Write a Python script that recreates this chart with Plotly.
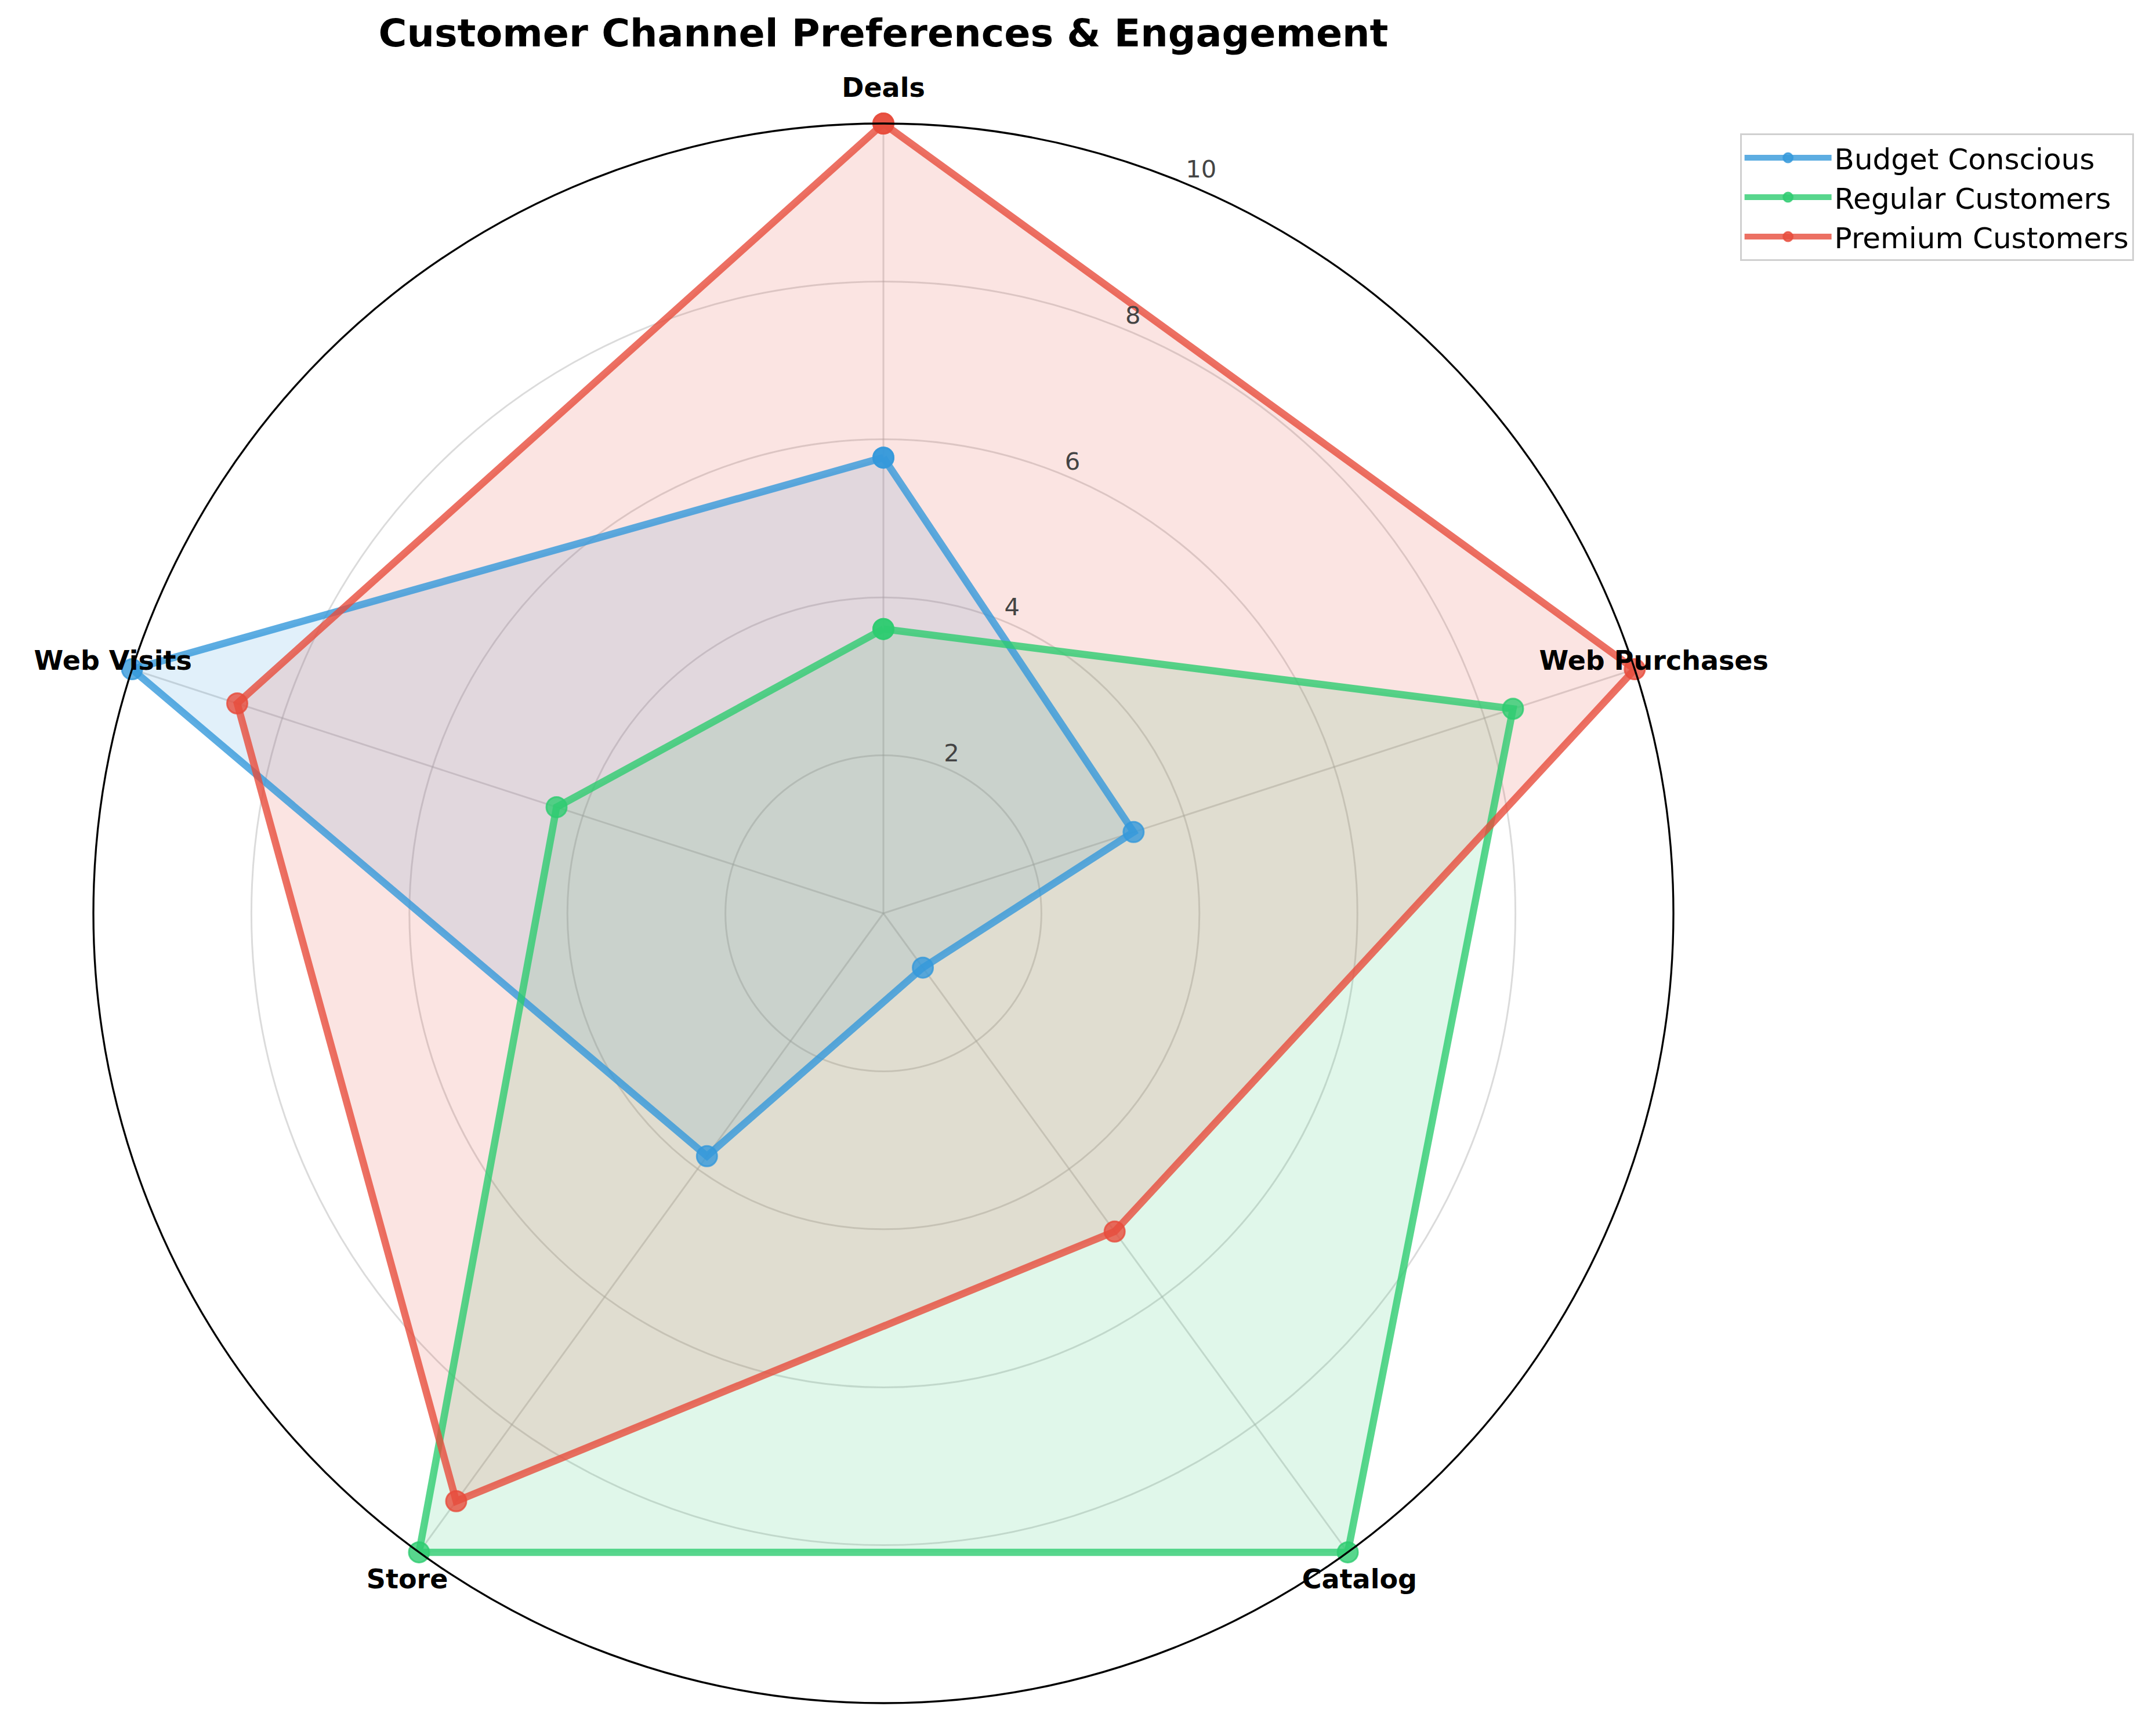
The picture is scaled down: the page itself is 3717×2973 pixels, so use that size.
import plotly.graph_objects as go

categories = ["Deals", "Web Purchases", "Catalog", "Store", "Web Visits"]
budget = [5.77, 3.33, 0.85, 3.8, 10.0]
regular = [3.6, 8.38, 10.0, 10.0, 4.35]
premium = [10.0, 10.0, 4.98, 9.2, 8.6]
series_names = ["Budget Conscious", "Regular Customers", "Premium Customers"]
series_values = [budget, regular, premium]
radial_ticks = [2, 4, 6, 8, 10]
R_MAX = 10

line_colors = ["rgba(52,152,219,0.8)", "rgba(46,204,113,0.8)", "rgba(231,76,60,0.8)"]
fill_colors = ["rgba(52,152,219,0.15)", "rgba(46,204,113,0.15)", "rgba(231,76,60,0.15)"]
label_positions = ["top center", "middle center", "bottom center", "bottom center", "middle center"]
RLABEL_ANGLE = 22.5  # degrees clockwise from top

FONT = "DejaVu Sans"
W, H = 3717, 2973
CX, CY, R_PX = 1523, 1575, 1362  # polar centre and outer radius in pixels

dom_x = [(CX - R_PX) / W, (CX + R_PX) / W]
dom_y = [1 - (CY + R_PX) / H, 1 - (CY - R_PX) / H]
R2_PX = min(CX, W - CX, CY, H - CY)
dom2_x = [(CX - R2_PX) / W, (CX + R2_PX) / W]
dom2_y = [1 - (CY + R2_PX) / H, 1 - (CY - R2_PX) / H]
R2_MAX = R_MAX * R2_PX / R_PX

fig = go.Figure()
for vals, fc in zip(series_values, fill_colors):
    fig.add_trace(go.Scatterpolar(
        r=vals + vals[:1],
        theta=categories + categories[:1],
        mode="lines",
        fill="toself",
        fillcolor=fc,
        line=dict(width=0, color="rgba(0,0,0,0)"),
        showlegend=False,
        hoverinfo="skip",
    ))
for name, vals, lc in zip(series_names, series_values, line_colors):
    fig.add_trace(go.Scatterpolar(
        r=vals + vals[:1],
        theta=categories + categories[:1],
        mode="lines+markers",
        name=name,
        line=dict(color=lc, width=12.5),
        marker=dict(color=lc, size=35, line=dict(color=lc, width=3)),
    ))

# category labels
fig.add_trace(go.Scatterpolar(
    r=[R2_MAX * 0.999] * len(categories),
    theta=categories,
    mode="text",
    text=categories,
    textposition=label_positions,
    textfont=dict(family=FONT, size=46, color="black", weight="bold"),
    showlegend=False,
    cliponaxis=False,
    hoverinfo="skip",
    subplot="polar2",
))

# radial tick labels along the 22.5 degree line
fig.add_trace(go.Scatterpolar(
    r=radial_ticks,
    theta=[RLABEL_ANGLE] * len(radial_ticks),
    mode="text",
    text=[str(t) for t in radial_ticks],
    textposition="top right",
    textfont=dict(family=FONT, size=41.7, color="#444444"),
    showlegend=False,
    cliponaxis=False,
    hoverinfo="skip",
    subplot="polar3",
))

hidden_angular = dict(visible=False, showgrid=False, showline=False)

fig.update_layout(
    width=W,
    height=H,
    margin=dict(l=0, r=0, t=0, b=0),
    paper_bgcolor="white",
    font=dict(family=FONT),
    title=dict(
        text="Customer Channel Preferences & Engagement",
        x=CX / W, xanchor="center", xref="paper",
        y=0.981, yanchor="middle", yref="paper",
        font=dict(family=FONT, size=66.7, color="black", weight="bold"),
    ),
    polar=dict(
        domain=dict(x=dom_x, y=dom_y),
        bgcolor="white",
        radialaxis=dict(
            range=[0, R_MAX],
            tickvals=radial_ticks,
            showticklabels=False,
            angle=90 - RLABEL_ANGLE,
            showline=False,
            ticks="",
            gridcolor="rgba(176,176,176,0.45)",
            gridwidth=2.5,
        ),
        angularaxis=dict(
            categoryorder="array",
            categoryarray=categories,
            rotation=90,
            direction="clockwise",
            showticklabels=False,
            ticks="",
            showline=True,
            linecolor="black",
            linewidth=3.3,
            gridcolor="rgba(176,176,176,0.45)",
            gridwidth=2.5,
        ),
    ),
    polar2=dict(
        domain=dict(x=dom2_x, y=dom2_y),
        bgcolor="rgba(0,0,0,0)",
        radialaxis=dict(range=[0, R2_MAX], visible=False, showgrid=False),
        angularaxis=dict(categoryorder="array", categoryarray=categories,
                         rotation=90, direction="clockwise", **hidden_angular),
    ),
    polar3=dict(
        domain=dict(x=dom_x, y=dom_y),
        bgcolor="rgba(0,0,0,0)",
        radialaxis=dict(range=[0, R_MAX], visible=False, showgrid=False),
        angularaxis=dict(type="linear", thetaunit="degrees",
                         rotation=90, direction="clockwise", **hidden_angular),
    ),
    legend=dict(
        x=0.807, xanchor="left",
        y=0.9226, yanchor="top",
        bgcolor="white",
        bordercolor="#d0d0d0",
        borderwidth=3,
        font=dict(family=FONT, size=50, color="black"),
        itemwidth=150,
    ),
)

fig.write_html("out.html")
